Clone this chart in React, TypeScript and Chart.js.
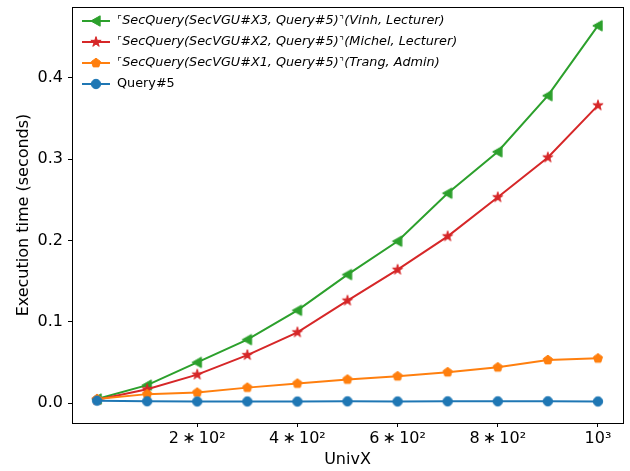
import React, { useEffect, useRef } from "react";
import { Chart, registerables } from "chart.js";

Chart.register(...registerables);

const xValues = [0, 100, 200, 300, 400, 500, 600, 700, 800, 900, 1000];
const x3Values = [0.005, 0.022, 0.050, 0.078, 0.114, 0.158, 0.199, 0.258, 0.309, 0.378, 0.464];
const x2Values = [0.004, 0.017, 0.035, 0.059, 0.087, 0.126, 0.164, 0.205, 0.253, 0.302, 0.366];
const x1Values = [0.005, 0.011, 0.013, 0.019, 0.024, 0.029, 0.033, 0.038, 0.044, 0.053, 0.055];
const q5Values = [0.003, 0.0022, 0.002, 0.002, 0.0019, 0.0021, 0.002, 0.0021, 0.0021, 0.0022, 0.002];
const xTickValues = [200, 400, 600, 800, 1000];
const xTickLabels = ["2\u2009\u2217\u200910\u00b2", "4\u2009\u2217\u200910\u00b2", "6\u2009\u2217\u200910\u00b2", "8\u2009\u2217\u200910\u00b2", "10\u00b3"];
const yTickValues = [0, 0.1, 0.2, 0.3, 0.4];

const GREEN = "#2ca02c";
const RED = "#d62728";
const ORANGE = "#ff7f0e";
const BLUE = "#1f77b4";

function makeMarker(kind: string, color: string): HTMLCanvasElement {
  const s = 14;
  const c = document.createElement("canvas");
  c.width = s;
  c.height = s;
  const ctx = c.getContext("2d")!;
  const cx = s / 2, cy = s / 2;
  ctx.fillStyle = color;
  ctx.strokeStyle = color;
  ctx.lineWidth = 1;
  ctx.beginPath();
  if (kind === "star") {
    const R = 5.4, r = R * 0.382;
    for (let i = 0; i < 10; i++) {
      const rad = i % 2 === 0 ? R : r;
      const a = -Math.PI / 2 + (i * Math.PI) / 5;
      const px = cx + rad * Math.cos(a), py = cy + rad * Math.sin(a);
      if (i === 0) ctx.moveTo(px, py); else ctx.lineTo(px, py);
    }
  } else if (kind === "pentagon") {
    const R = 4.8;
    for (let i = 0; i < 5; i++) {
      const a = -Math.PI / 2 + (i * 2 * Math.PI) / 5;
      const px = cx + R * Math.cos(a), py = cy + R * Math.sin(a);
      if (i === 0) ctx.moveTo(px, py); else ctx.lineTo(px, py);
    }
  } else if (kind === "left") {
    const R = 5.2;
    ctx.moveTo(cx - R, cy);
    ctx.lineTo(cx + R * 0.8, cy - R);
    ctx.lineTo(cx + R * 0.8, cy + R);
  } else {
    ctx.arc(cx, cy, 4.7, 0, Math.PI * 2);
  }
  ctx.closePath();
  ctx.fill();
  ctx.stroke();
  return c;
}

export default function App() {
  const ref = useRef<HTMLCanvasElement | null>(null);
  useEffect(() => {
    document.body.style.margin = "0";
    const mGreen = makeMarker("left", GREEN);
    const mRed = makeMarker("star", RED);
    const mOrange = makeMarker("pentagon", ORANGE);
    const mBlue = makeMarker("circle", BLUE);

    const legendItems = [
      { color: GREEN, marker: mGreen, a: "SecQuery(SecVGU#X3, Query#5)", b: "(Vinh, Lecturer)" },
      { color: RED, marker: mRed, a: "SecQuery(SecVGU#X2, Query#5)", b: "(Michel, Lecturer)" },
      { color: ORANGE, marker: mOrange, a: "SecQuery(SecVGU#X1, Query#5)", b: "(Trang, Admin)" },
      { color: BLUE, marker: mBlue, a: "", b: "Query#5" },
    ];

    const framePlugin = {
      id: "frame",
      afterDraw(chart: any) {
        const { ctx, chartArea } = chart;
        ctx.save();
        ctx.strokeStyle = "#000";
        ctx.lineWidth = 1;
        ctx.strokeRect(
          Math.round(chartArea.left) + 0.5,
          Math.round(chartArea.top) + 0.5,
          Math.round(chartArea.right - chartArea.left),
          Math.round(chartArea.bottom - chartArea.top)
        );
        // legend
        const ys = [21, 42, 63, 84];
        const fs = 12.8;
        legendItems.forEach((it, i) => {
          const y = ys[i];
          ctx.strokeStyle = it.color;
          ctx.lineWidth = 2;
          ctx.beginPath();
          ctx.moveTo(82, y);
          ctx.lineTo(110, y);
          ctx.stroke();
          ctx.drawImage(it.marker, 96 - 7, y - 7);
          ctx.fillStyle = "#000";
          ctx.textBaseline = "middle";
          let x = 117;
          if (it.a) {
            ctx.font = "10px 'DejaVu Sans'";
            ctx.fillText("\u231c", x, y - 1);
            x += ctx.measureText("\u231c").width + 0.5;
            ctx.font = `oblique ${fs}px 'DejaVu Sans'`;
            ctx.fillText(it.a, x, y);
            x += ctx.measureText(it.a).width + 0.5;
            ctx.font = "10px 'DejaVu Sans'";
            ctx.fillText("\u231d", x, y - 1);
            x += ctx.measureText("\u231d").width + 0.5;
            ctx.font = `oblique ${fs}px 'DejaVu Sans'`;
            ctx.fillText(it.b, x, y);
          } else {
            ctx.font = `${fs}px 'DejaVu Sans'`;
            ctx.fillText(it.b, x, y);
          }
        });
        ctx.restore();
      },
    };

    const mk = (label: string, data: number[], color: string, marker: HTMLCanvasElement) => ({
      label,
      data: xValues.map((x, i) => ({ x, y: data[i] })),
      borderColor: color,
      backgroundColor: color,
      borderWidth: 2,
      pointStyle: marker,
      pointRadius: 5,
      pointHoverRadius: 5,
      tension: 0,
    });

    const chart = new Chart(ref.current!, {
      type: "line",
      data: {
        datasets: [
          mk("Query#5", q5Values, BLUE, mBlue),
          mk("X1", x1Values, ORANGE, mOrange),
          mk("X2", x2Values, RED, mRed),
          mk("X3", x3Values, GREEN, mGreen),
        ],
      },
      options: {
        animation: false,
        responsive: false,
        devicePixelRatio: 1,
        layout: { padding: { top: 5, right: 3, left: 0, bottom: 0 } },
        plugins: { legend: { display: false }, tooltip: { enabled: false } },
        scales: {
          x: {
            type: "linear",
            min: -50,
            max: 1050,
            afterBuildTicks: (scale: any) => {
              scale.ticks = xTickValues.map((v) => ({ value: v }));
            },
            afterFit: (scale: any) => {
              scale.height = 48;
              scale.paddingLeft = 0;
              scale.paddingRight = 0;
            },
            grid: { drawOnChartArea: false, drawTicks: true, tickLength: 4, color: "#000", tickWidth: 1 },
            border: { display: false },
            ticks: {
              color: "#000",
              font: { family: "'DejaVu Sans'", size: 16 },
              padding: 2,
              maxRotation: 0,
              autoSkip: false,
              callback: (v: any) => {
                const i = xTickValues.indexOf(Number(v));
                return i >= 0 ? xTickLabels[i] : "";
              },
            },
            title: {
              display: true,
              text: "UnivX",
              color: "#000",
              font: { family: "'DejaVu Sans'", size: 16 },
              padding: { top: 0, bottom: 2 },
            },
          },
          y: {
            type: "linear",
            min: -0.0245,
            max: 0.487,
            afterBuildTicks: (scale: any) => {
              scale.ticks = yTickValues.map((v) => ({ value: v }));
            },
            afterFit: (scale: any) => {
              scale.width = 72;
              scale.paddingTop = 0;
              scale.paddingBottom = 0;
            },
            grid: { drawOnChartArea: false, drawTicks: true, tickLength: 4, color: "#000", tickWidth: 1 },
            border: { display: false },
            ticks: {
              color: "#000",
              font: { family: "'DejaVu Sans'", size: 16 },
              padding: 5,
              callback: (v: any) => Number(v).toFixed(1),
            },
            title: {
              display: true,
              text: "Execution time (seconds)",
              color: "#000",
              font: { family: "'DejaVu Sans'", size: 16 },
              padding: { top: 14, bottom: 0 },
            },
          },
        },
      },
      plugins: [framePlugin],
    } as any);
    return () => chart.destroy();
  }, []);
  return <canvas ref={ref} width={630} height={471} style={{ display: "block" }} />;
}
